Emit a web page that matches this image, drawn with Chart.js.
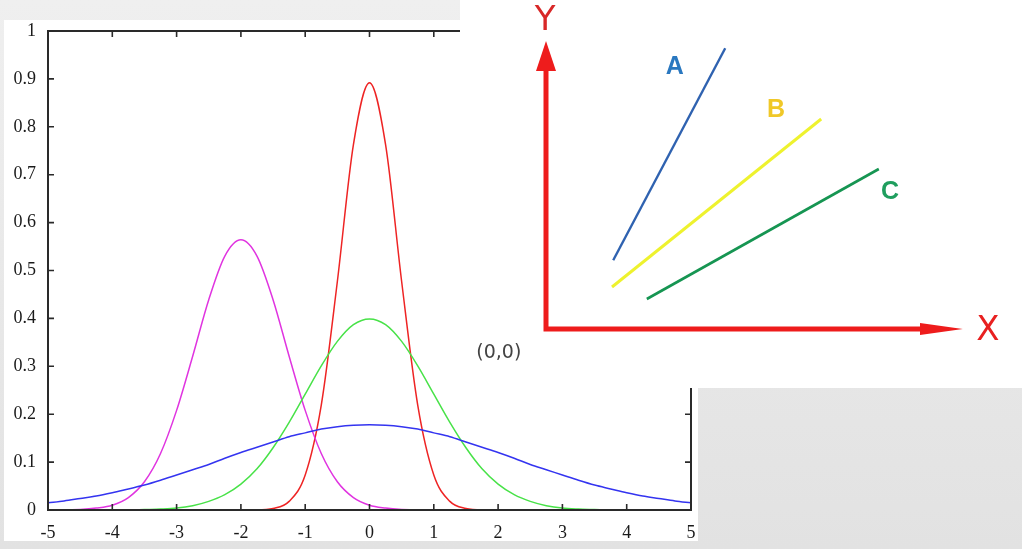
<!DOCTYPE html>
<html>
<head>
<meta charset="utf-8">
<script src="https://cdn.jsdelivr.net/npm/chart.js@4.4.1/dist/chart.umd.min.js"></script>
<style>
  html, body { margin: 0; padding: 0; }
  body {
    width: 1022px; height: 549px; overflow: hidden; position: relative;
    background: linear-gradient(to bottom, #efefef, #e2e2e2);
  }
  #plotBg { position: absolute; left: 4px; top: 20px; width: 694px; height: 521px; background: #fff; }
  #main { position: absolute; left: 0; top: 0; }
  #inset { position: absolute; left: 460px; top: 0; width: 562px; height: 388px; background: #fff; }
</style>
</head>
<body>
<div id="plotBg"></div>
<canvas id="main" width="1022" height="549"></canvas>
<div id="inset"><canvas id="diagram" width="562" height="388"></canvas></div>
<script>
// sample positions along x
const xValues = [-5,-4.75,-4.5,-4.25,-4,-3.75,-3.5,-3.25,-3,-2.75,-2.5,-2.25,-2,-1.75,-1.5,-1.25,-1,-0.75,-0.5,-0.25,0,
  0.25,0.5,0.75,1,1.25,1.5,1.75,2,2.25,2.5,2.75,3,3.25,3.5,3.75,4,4.25,4.5,4.75,5];

// curves
const redCurve = [0,0,0,0,0,0,0,0,0,0,0,0,0,0,0.003,0.018,0.073,0.219,0.477,0.763,0.892,
  0.763,0.477,0.219,0.073,0.018,0.003,0,0,0,0,0,0,0,0,0,0,0,0,0,0];
const greenCurve = [0,0,0,0,0,0,0.001,0.002,0.004,0.009,0.018,0.032,0.054,0.086,0.130,0.183,0.242,0.301,0.352,0.387,0.399,
  0.387,0.352,0.301,0.242,0.183,0.130,0.086,0.054,0.032,0.018,0.009,0.004,0.002,0.001,0,0,0,0,0,0];
const blueCurve = [0.015,0.019,0.024,0.029,0.036,0.044,0.052,0.062,0.073,0.084,0.095,0.108,0.120,0.131,0.142,0.153,0.161,0.169,0.174,0.177,0.178,
  0.177,0.174,0.169,0.161,0.153,0.142,0.131,0.120,0.108,0.095,0.084,0.073,0.062,0.052,0.044,0.036,0.029,0.024,0.019,0.015];
const magentaCurve = [0,0,0.001,0.004,0.010,0.026,0.059,0.118,0.208,0.321,0.439,0.530,0.564,0.530,0.439,0.321,0.208,0.118,0.059,0.026,0.010,
  0.004,0.001,0,0,0,0,0,0,0,0,0,0,0,0,0,0,0,0,0,0];

const xTickValues = [-5,-4,-3,-2,-1,0,1,2,3,4,5];
const xTickLabels = ['-5','-4','-3','-2','-1','0','1','2','3','4','5'];
const yTickValues = [0,0.1,0.2,0.3,0.4,0.5,0.6,0.7,0.8,0.9,1];
const yTickLabels = ['0','0.1','0.2','0.3','0.4','0.5','0.6','0.7','0.8','0.9','1'];

// inset diagram
const axisX = [0, 0, 9.6];
const axisY = [6.7, 0, 0];
const arrowTips = [[0, 7.2], [10.42, 0]];
const arrowBases = [[0, 6.45], [9.35, 0]];
const lineA = [[1.68, 1.72], [4.48, 7.02]];
const lineB = [[1.65, 1.05], [6.88, 5.25]];
const lineC = [[2.52, 0.75], [8.32, 4.0]];
const diagramLabels = ['A', 'B', 'C', 'X', 'Y', '(0,0)'];
const labelX = [3.22, 5.75, 8.6, 11.05, -0.02, -1.18];
const labelY = [6.55, 5.47, 3.42, -0.05, 7.7, -0.6];

function pts(ys) {
    return xValues.map((x, i) => ({ x: x, y: ys[i] }));
}
function pairs(list) {
    return list.map(p => ({ x: p[0], y: p[1] }));
}

function curve(ys, color) {
    return {
        data: pts(ys),
        borderColor: color,
        borderWidth: 1.5,
        pointRadius: 0,
        fill: false,
        cubicInterpolationMode: 'monotone'
    };
}

// gnuplot style frame with inward ticks
const framePlugin = {
    id: 'frame',
    afterDraw(chart) {
        const { ctx, chartArea: a, scales } = chart;
        ctx.save();
        ctx.strokeStyle = '#2a2a2a';
        ctx.lineWidth = 2;
        ctx.strokeRect(a.left, a.top, a.right - a.left, a.bottom - a.top);
        ctx.lineWidth = 1.6;
        ctx.beginPath();
        xTickValues.forEach(v => {
            const px = scales.x.getPixelForValue(v);
            ctx.moveTo(px, a.bottom); ctx.lineTo(px, a.bottom - 6);
            ctx.moveTo(px, a.top); ctx.lineTo(px, a.top + 6);
        });
        yTickValues.forEach(v => {
            const py = scales.y.getPixelForValue(v);
            ctx.moveTo(a.left, py); ctx.lineTo(a.left + 6, py);
            ctx.moveTo(a.right, py); ctx.lineTo(a.right - 6, py);
        });
        ctx.stroke();
        ctx.restore();
    }
};

const tickFont = { family: "'Liberation Serif', 'DejaVu Serif', serif", size: 18 };

new Chart(document.getElementById('main'), {
    type: 'line',
    data: {
        datasets: [
            curve(blueCurve, '#3434f0'),
            curve(greenCurve, '#48e248'),
            curve(magentaCurve, '#e034e0'),
            curve(redCurve, '#ee2424')
        ]
    },
    options: {
        responsive: false,
        animation: false,
        layout: { padding: { left: 0, top: 31, right: 331, bottom: 0 } },
        scales: {
            x: {
                type: 'linear',
                min: -5,
                max: 5,
                afterBuildTicks: s => { s.ticks = xTickValues.map(v => ({ value: v })); },
                afterFit: s => { s.height = 39; },
                ticks: {
                    color: '#1a1a1a',
                    font: tickFont,
                    padding: 12,
                    maxRotation: 0,
                    callback: (v, i) => xTickLabels[i]
                },
                grid: { display: false, drawTicks: false },
                border: { display: false }
            },
            y: {
                min: 0,
                max: 1,
                afterBuildTicks: s => { s.ticks = yTickValues.map(v => ({ value: v })); },
                afterFit: s => { s.width = 48; },
                ticks: {
                    color: '#1a1a1a',
                    font: tickFont,
                    padding: 12,
                    callback: (v, i) => yTickLabels[i]
                },
                grid: { display: false, drawTicks: false },
                border: { display: false }
            }
        },
        plugins: {
            legend: { display: false },
            tooltip: { enabled: false }
        }
    },
    plugins: [framePlugin]
});

// arrows and letters of the inset
const insetPlugin = {
    id: 'insetMarks',
    afterDatasetsDraw(chart) {
        const { ctx, scales } = chart;
        const sx = scales.x, sy = scales.y;
        ctx.save();
        ctx.fillStyle = '#ee1c1c';
        arrowTips.forEach((tip, i) => {
            const tx = sx.getPixelForValue(tip[0]), ty = sy.getPixelForValue(tip[1]);
            const bx = sx.getPixelForValue(arrowBases[i][0]), by = sy.getPixelForValue(arrowBases[i][1]);
            const half = i === 0 ? 10 : 6;
            const dx = tx - bx, dy = ty - by, len = Math.hypot(dx, dy);
            const nx = -dy / len * half, ny = dx / len * half;
            ctx.beginPath();
            ctx.moveTo(tx, ty);
            ctx.lineTo(bx + nx, by + ny);
            ctx.lineTo(bx - nx, by - ny);
            ctx.closePath();
            ctx.fill();
        });

        const styles = [
            { c: '#2a78c0', f: "bold 25px 'Liberation Sans', sans-serif" },
            { c: '#f0c828', f: "bold 25px 'Liberation Sans', sans-serif" },
            { c: '#1f9e5e', f: "bold 25px 'Liberation Sans', sans-serif" },
            { c: '#e82020', f: "34px 'DejaVu Sans', sans-serif" },
            { c: '#d82828', f: "34px 'DejaVu Sans', sans-serif" },
            { c: '#444', f: "19px 'DejaVu Sans', sans-serif" }
        ];
        ctx.textAlign = 'center';
        ctx.textBaseline = 'middle';
        diagramLabels.forEach((t, i) => {
            ctx.fillStyle = styles[i].c;
            ctx.font = styles[i].f;
            ctx.fillText(t, sx.getPixelForValue(labelX[i]), sy.getPixelForValue(labelY[i]));
        });
        ctx.restore();
    }
};

function seg(data, color, width) {
    return {
        data: data,
        borderColor: color,
        borderWidth: width,
        pointRadius: 0,
        fill: false,
        clip: false,
        borderCapStyle: 'butt'
    };
}

new Chart(document.getElementById('diagram'), {
    type: 'line',
    data: {
        datasets: [
            seg(axisX.map((x, i) => ({ x: x, y: axisY[i] })), '#ee1c1c', 5),
            seg(pairs(lineA), '#2f62b0', 2.4),
            seg(pairs(lineB), '#eef22e', 3),
            seg(pairs(lineC), '#169552', 2.6)
        ]
    },
    options: {
        responsive: false,
        animation: false,
        layout: { padding: { left: 86, top: 9, right: 36, bottom: 59 } },
        scales: {
            x: { type: 'linear', min: 0, max: 11, display: false },
            y: { min: 0, max: 8, display: false }
        },
        plugins: {
            legend: { display: false },
            tooltip: { enabled: false }
        }
    },
    plugins: [insetPlugin]
});
</script>
</body>
</html>
